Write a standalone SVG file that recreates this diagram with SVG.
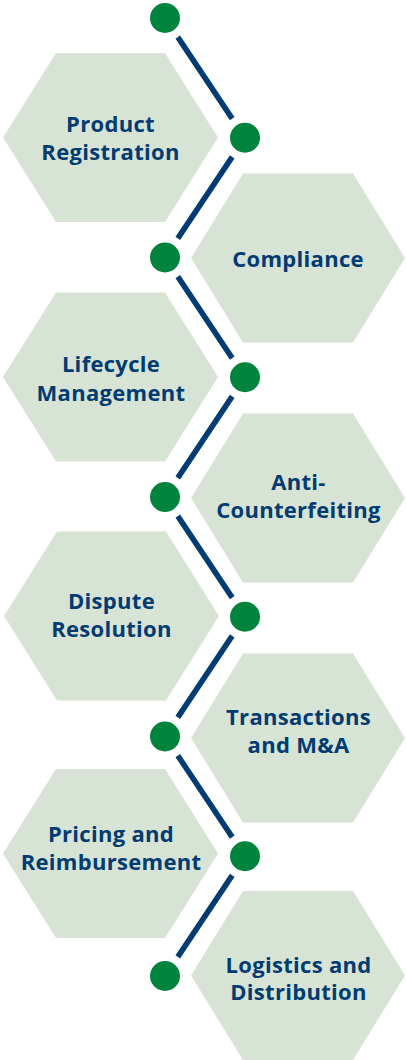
<svg xmlns="http://www.w3.org/2000/svg" width="406" height="1060" viewBox="0 0 406 1060">
<style>
.hex{fill:#d7e3d4}
.lbl{font-family:"Open Sans","Liberation Sans",sans-serif;font-weight:bold;font-size:22px;letter-spacing:0.3px;fill:#003c71;text-anchor:middle}
.dot{fill:#00843d}
.ln{stroke:#003c71;stroke-width:5.5;fill:none}
</style>
<rect width="406" height="1060" fill="#ffffff"/>
<g id="n1"><polygon class="hex" points="3,137.5 56,53 165,53 218,137.5 165,222 56,222"/><text class="lbl" x="110.5" y="132">Product</text><text class="lbl" x="110.5" y="159.5">Registration</text></g>
<g id="n2"><polygon class="hex" points="191,258 243,173.5 353,173.5 405,258 353,342.5 243,342.5"/><text class="lbl" x="298" y="267">Compliance</text></g>
<g id="n3"><polygon class="hex" points="3,377 56,292.5 165,292.5 218,377 165,461.5 56,461.5"/><text class="lbl" x="111" y="372">Lifecycle</text><text class="lbl" x="111" y="400.5">Management</text></g>
<g id="n4"><polygon class="hex" points="191,498 243,413.5 353,413.5 405,498 353,582.5 243,582.5"/><text class="lbl" x="298.5" y="490">Anti-</text><text class="lbl" x="298.5" y="518">Counterfeiting</text></g>
<g id="n5"><polygon class="hex" points="4,616 57,531.5 166,531.5 219,616 166,700.5 57,700.5"/><text class="lbl" x="111.5" y="609">Dispute</text><text class="lbl" x="111.5" y="637">Resolution</text></g>
<g id="n6"><polygon class="hex" points="191,738 243,653.5 353,653.5 405,738 353,822.5 243,822.5"/><text class="lbl" x="298.5" y="725">Transactions</text><text class="lbl" x="298.5" y="753">and M&amp;A</text></g>
<g id="n7"><polygon class="hex" points="3,853.5 56,769 165,769 218,853.5 165,938 56,938"/><text class="lbl" x="111" y="842">Pricing and</text><text class="lbl" x="111" y="869.5">Reimbursement</text></g>
<g id="n8"><polygon class="hex" points="191,975.5 243,891 353,891 405,975.5 353,1060 243,1060"/><text class="lbl" x="298.5" y="972.5">Logistics and</text><text class="lbl" x="298.5" y="1000">Distribution</text></g>
<g id="connectors">
<line class="ln" x1="177.8" y1="37.1" x2="232.2" y2="118.6"/>
<line class="ln" x1="232.2" y1="156.9" x2="177.8" y2="238.4"/>
<line class="ln" x1="177.8" y1="276.6" x2="232.2" y2="358.1"/>
<line class="ln" x1="232.2" y1="396.4" x2="177.8" y2="477.9"/>
<line class="ln" x1="177.8" y1="516.1" x2="232.2" y2="597.6"/>
<line class="ln" x1="232.2" y1="635.9" x2="177.8" y2="717.4"/>
<line class="ln" x1="177.8" y1="755.6" x2="232.2" y2="837.1"/>
<line class="ln" x1="232.2" y1="875.4" x2="177.8" y2="956.9"/>
</g>
<g id="dots">
<circle class="dot" cx="165" cy="18" r="15"/>
<circle class="dot" cx="245" cy="137.75" r="15"/>
<circle class="dot" cx="165" cy="257.5" r="15"/>
<circle class="dot" cx="245" cy="377.25" r="15"/>
<circle class="dot" cx="165" cy="497" r="15"/>
<circle class="dot" cx="245" cy="616.75" r="15"/>
<circle class="dot" cx="165" cy="736.5" r="15"/>
<circle class="dot" cx="245" cy="856.25" r="15"/>
<circle class="dot" cx="165" cy="976" r="15"/>
</g>
</svg>
